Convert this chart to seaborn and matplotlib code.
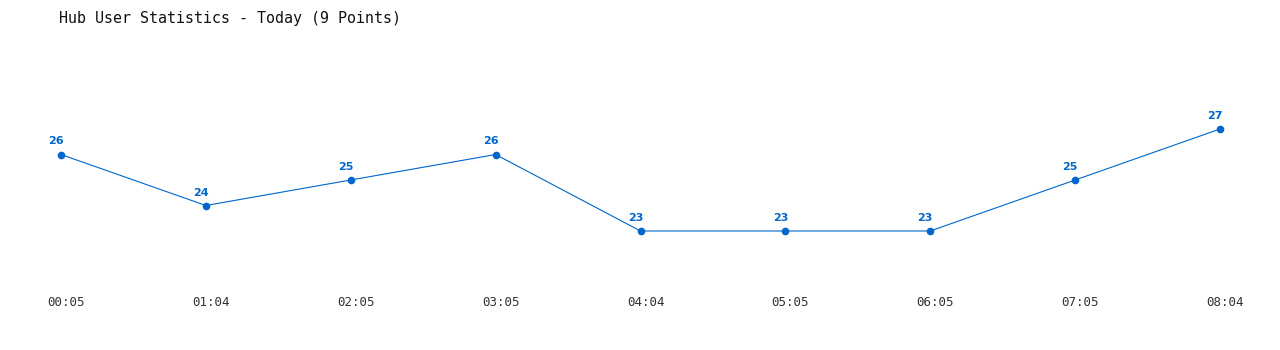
import matplotlib
matplotlib.use("Agg")
import matplotlib.pyplot as plt
import matplotlib.transforms as mtransforms
import seaborn as sns
import pandas as pd

times = ["00:05", "01:04", "02:05", "03:05", "04:04", "05:05", "06:05", "07:05", "08:04"]
users = [26, 24, 25, 26, 23, 23, 23, 25, 27]
title = "Hub User Statistics - Today (9 Points)"

color = "#0066cc"

sns.set_style("white")
plt.rcParams['font.family'] = ['DejaVu Sans Mono']

df = pd.DataFrame({"idx": range(len(times)), "users": users})

W, H = 1280, 350
fig = plt.figure(figsize=(W / 100, H / 100), dpi=100)
left, right = 61, 1220
top, bottom = 129, 231
ax = fig.add_axes([left / W, (H - bottom) / H, (right - left) / W, (bottom - top) / H])

sns.lineplot(data=df, x="idx", y="users", ax=ax, color=color, linewidth=0.8,
             marker="o", markersize=5.5, markeredgewidth=0, clip_on=False)

ax.set_xlim(0, len(times) - 1)
ax.set_ylim(min(users), max(users))

for i, v in enumerate(users):
    ax.annotate(str(v), (i, v), xytext=(-5, 8), textcoords="offset pixels",
                ha="center", va="bottom", fontsize=8, fontweight="bold",
                color=color, family="DejaVu Sans")

ax.set_xticks(range(len(times)))
ax.set_xticklabels(times, fontsize=9, color="#333333")
ax.tick_params(axis="x", length=0, pad=47)
offset = mtransforms.ScaledTranslation(5 / 100, 0, fig.dpi_scale_trans)
for lbl in ax.get_xticklabels():
    lbl.set_transform(lbl.get_transform() + offset)
ax.set_yticks([])
ax.set_xlabel("")
ax.set_ylabel("")
for s in ax.spines.values():
    s.set_visible(False)

fig.text(59 / W, 1 - 18 / H, title, ha="left", va="center", fontsize=10.8, color="#111111")

fig.savefig("out.png", dpi=100, facecolor="white")
